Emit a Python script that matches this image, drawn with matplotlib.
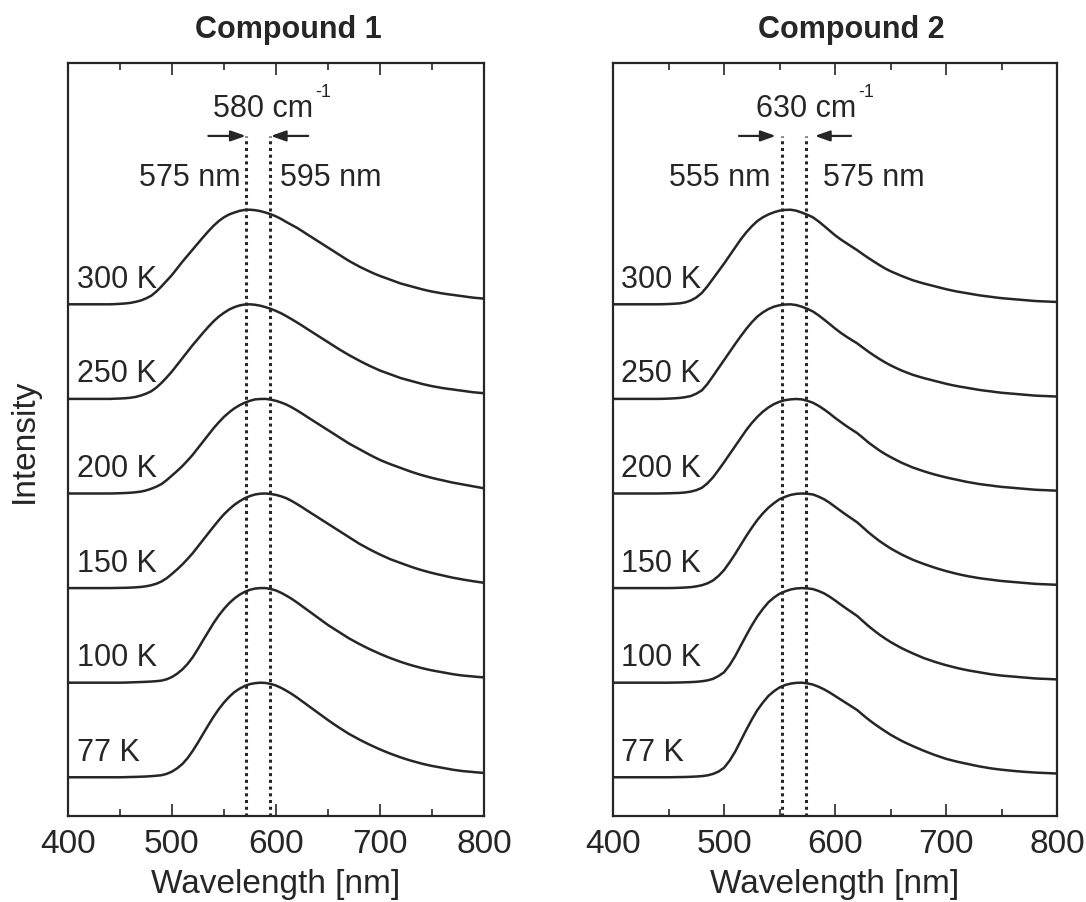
import matplotlib
matplotlib.use('Agg')
import matplotlib.pyplot as plt

plt.rcParams['font.family'] = ['Liberation Sans', 'DejaVu Sans']

# wavelength grid [nm], 5 nm steps (81 points)
wavelength = list(range(400, 801, 5))
temps = ['300 K', '250 K', '200 K', '150 K', '100 K', '77 K']

# compound 1, normalised intensity
c1_300 = [0, 0, 0, 0, 0, 0, 0, 0, 0, 0.002,
          0.005, 0.009, 0.015, 0.026, 0.04, 0.062, 0.09, 0.135, 0.19, 0.25,
          0.31, 0.38, 0.45, 0.515, 0.58, 0.645, 0.71, 0.772, 0.83, 0.88,
          0.92, 0.95, 0.97, 0.988, 0.998, 1.0, 0.995, 0.985, 0.97, 0.952,
          0.93, 0.902, 0.87, 0.84, 0.81, 0.776, 0.74, 0.705, 0.67, 0.635,
          0.60, 0.565, 0.53, 0.495, 0.46, 0.43, 0.40, 0.373, 0.347, 0.322,
          0.30, 0.28, 0.26, 0.24, 0.22, 0.205, 0.19, 0.175, 0.16, 0.147,
          0.135, 0.125, 0.115, 0.107, 0.10, 0.092, 0.085, 0.077, 0.07, 0.065,
          0.06]
c1_250 = [0, 0, 0, 0, 0, 0, 0, 0, 0, 0.002,
          0.004, 0.007, 0.012, 0.021, 0.035, 0.055, 0.08, 0.12, 0.17, 0.228,
          0.29, 0.36, 0.43, 0.50, 0.57, 0.635, 0.70, 0.762, 0.82, 0.87,
          0.91, 0.945, 0.97, 0.988, 0.998, 1.0, 0.995, 0.985, 0.97, 0.952,
          0.93, 0.905, 0.875, 0.843, 0.81, 0.776, 0.74, 0.705, 0.67, 0.635,
          0.60, 0.565, 0.53, 0.497, 0.465, 0.435, 0.405, 0.377, 0.35, 0.325,
          0.30, 0.28, 0.26, 0.24, 0.22, 0.205, 0.19, 0.175, 0.16, 0.147,
          0.135, 0.125, 0.115, 0.107, 0.10, 0.092, 0.085, 0.077, 0.07, 0.065,
          0.06]
c1_200 = [0, 0, 0, 0, 0, 0, 0, 0, 0, 0.001,
          0.003, 0.005, 0.008, 0.013, 0.02, 0.032, 0.05, 0.072, 0.10, 0.142,
          0.19, 0.238, 0.29, 0.348, 0.41, 0.48, 0.55, 0.62, 0.69, 0.752,
          0.81, 0.858, 0.90, 0.933, 0.96, 0.98, 0.995, 0.999, 1.0, 0.992,
          0.98, 0.962, 0.94, 0.912, 0.88, 0.846, 0.81, 0.775, 0.74, 0.705,
          0.67, 0.635, 0.60, 0.565, 0.53, 0.50, 0.47, 0.44, 0.41, 0.382,
          0.355, 0.332, 0.31, 0.29, 0.27, 0.25, 0.23, 0.212, 0.195, 0.18,
          0.165, 0.152, 0.14, 0.127, 0.115, 0.105, 0.095, 0.085, 0.075, 0.065,
          0.055]
c1_150 = [0, 0, 0, 0, 0, 0, 0, 0, 0, 0.001,
          0.002, 0.003, 0.005, 0.008, 0.012, 0.019, 0.03, 0.046, 0.07, 0.105,
          0.15, 0.198, 0.25, 0.308, 0.37, 0.44, 0.51, 0.58, 0.65, 0.717,
          0.78, 0.833, 0.88, 0.918, 0.95, 0.973, 0.99, 0.998, 1.0, 0.995,
          0.985, 0.97, 0.95, 0.922, 0.89, 0.856, 0.82, 0.785, 0.75, 0.715,
          0.68, 0.645, 0.61, 0.575, 0.54, 0.505, 0.47, 0.44, 0.41, 0.382,
          0.355, 0.33, 0.305, 0.285, 0.265, 0.245, 0.225, 0.207, 0.19, 0.175,
          0.16, 0.147, 0.135, 0.122, 0.11, 0.10, 0.09, 0.081, 0.072, 0.064,
          0.056]
c1_100 = [0, 0, 0, 0, 0, 0, 0, 0, 0, 0,
          0, 0.001, 0.003, 0.005, 0.007, 0.009, 0.012, 0.016, 0.022, 0.036,
          0.06, 0.095, 0.14, 0.198, 0.27, 0.357, 0.45, 0.54, 0.63, 0.71,
          0.78, 0.84, 0.89, 0.93, 0.96, 0.982, 0.995, 1.0, 1.0, 0.99,
          0.975, 0.95, 0.92, 0.887, 0.85, 0.81, 0.77, 0.73, 0.69, 0.65,
          0.61, 0.575, 0.54, 0.505, 0.47, 0.44, 0.41, 0.382, 0.355, 0.33,
          0.305, 0.282, 0.26, 0.24, 0.22, 0.202, 0.185, 0.17, 0.155, 0.142,
          0.13, 0.12, 0.11, 0.10, 0.09, 0.082, 0.075, 0.07, 0.065, 0.06,
          0.056]
c1_77 = [0, 0, 0, 0, 0, 0, 0, 0, 0, 0,
         0, 0.001, 0.003, 0.004, 0.006, 0.008, 0.012, 0.016, 0.022, 0.036,
         0.06, 0.095, 0.14, 0.202, 0.28, 0.367, 0.46, 0.552, 0.64, 0.72,
         0.79, 0.85, 0.90, 0.937, 0.965, 0.985, 0.995, 1.0, 0.997, 0.987,
         0.97, 0.945, 0.915, 0.882, 0.845, 0.805, 0.765, 0.725, 0.685, 0.645,
         0.605, 0.567, 0.53, 0.495, 0.46, 0.43, 0.40, 0.372, 0.345, 0.32,
         0.295, 0.272, 0.25, 0.23, 0.21, 0.192, 0.175, 0.16, 0.145, 0.132,
         0.12, 0.11, 0.10, 0.09, 0.08, 0.072, 0.065, 0.06, 0.055, 0.05,
         0.046]

# compound 2 (small shoulder near 620 nm)
c2_300 = [0, 0, 0, 0, 0, 0, 0, 0, 0, 0.001,
          0.003, 0.006, 0.01, 0.02, 0.04, 0.072, 0.12, 0.19, 0.27, 0.35,
          0.43, 0.515, 0.60, 0.685, 0.76, 0.825, 0.88, 0.92, 0.95, 0.973,
          0.99, 0.998, 1.0, 0.99, 0.97, 0.947, 0.92, 0.878, 0.83, 0.78,
          0.73, 0.687, 0.648, 0.61, 0.572, 0.53, 0.49, 0.452, 0.415, 0.38,
          0.35, 0.325, 0.30, 0.277, 0.255, 0.237, 0.22, 0.205, 0.19, 0.175,
          0.16, 0.147, 0.135, 0.125, 0.115, 0.105, 0.095, 0.087, 0.08, 0.072,
          0.065, 0.06, 0.055, 0.05, 0.045, 0.04, 0.035, 0.032, 0.03, 0.027,
          0.025]
c2_250 = [0, 0, 0, 0, 0, 0, 0, 0, 0, 0.001,
          0.003, 0.006, 0.01, 0.018, 0.03, 0.055, 0.09, 0.157, 0.24, 0.325,
          0.41, 0.495, 0.58, 0.662, 0.74, 0.81, 0.87, 0.915, 0.95, 0.975,
          0.99, 0.998, 1.0, 0.992, 0.975, 0.952, 0.925, 0.885, 0.84, 0.793,
          0.745, 0.70, 0.66, 0.623, 0.587, 0.543, 0.50, 0.46, 0.422, 0.387,
          0.355, 0.327, 0.30, 0.277, 0.255, 0.237, 0.22, 0.205, 0.19, 0.175,
          0.16, 0.147, 0.135, 0.125, 0.115, 0.105, 0.095, 0.087, 0.08, 0.072,
          0.065, 0.06, 0.055, 0.05, 0.045, 0.04, 0.035, 0.032, 0.03, 0.027,
          0.025]
c2_200 = [0, 0, 0, 0, 0, 0, 0, 0, 0, 0.001,
          0.002, 0.004, 0.006, 0.011, 0.02, 0.035, 0.06, 0.107, 0.17, 0.248,
          0.33, 0.415, 0.50, 0.585, 0.67, 0.745, 0.81, 0.865, 0.91, 0.945,
          0.97, 0.987, 0.995, 0.999, 0.995, 0.98, 0.96, 0.928, 0.89, 0.847,
          0.80, 0.757, 0.715, 0.676, 0.638, 0.59, 0.54, 0.497, 0.455, 0.418,
          0.385, 0.355, 0.325, 0.30, 0.275, 0.255, 0.235, 0.217, 0.20, 0.185,
          0.17, 0.157, 0.145, 0.132, 0.12, 0.11, 0.10, 0.092, 0.085, 0.077,
          0.07, 0.065, 0.06, 0.055, 0.05, 0.045, 0.04, 0.037, 0.035, 0.032,
          0.03]
c2_150 = [0, 0, 0, 0, 0, 0, 0, 0, 0, 0,
          0, 0.001, 0.003, 0.006, 0.01, 0.018, 0.03, 0.05, 0.08, 0.128,
          0.19, 0.272, 0.36, 0.455, 0.55, 0.638, 0.72, 0.79, 0.85, 0.898,
          0.94, 0.965, 0.985, 0.996, 1.0, 0.997, 0.99, 0.968, 0.94, 0.903,
          0.86, 0.817, 0.775, 0.735, 0.695, 0.643, 0.59, 0.543, 0.498, 0.458,
          0.42, 0.387, 0.355, 0.327, 0.30, 0.277, 0.255, 0.235, 0.215, 0.197,
          0.18, 0.165, 0.15, 0.137, 0.125, 0.115, 0.105, 0.097, 0.09, 0.082,
          0.075, 0.07, 0.065, 0.06, 0.055, 0.05, 0.045, 0.042, 0.04, 0.037,
          0.035]
c2_100 = [0, 0, 0, 0, 0, 0, 0, 0, 0, 0,
          0, 0.001, 0.002, 0.004, 0.006, 0.009, 0.015, 0.024, 0.04, 0.07,
          0.11, 0.185, 0.28, 0.39, 0.50, 0.605, 0.70, 0.78, 0.85, 0.90,
          0.94, 0.965, 0.985, 0.996, 1.0, 0.997, 0.99, 0.97, 0.945, 0.91,
          0.87, 0.827, 0.785, 0.745, 0.705, 0.652, 0.60, 0.553, 0.508, 0.468,
          0.43, 0.397, 0.365, 0.337, 0.31, 0.285, 0.26, 0.24, 0.22, 0.202,
          0.185, 0.17, 0.155, 0.142, 0.13, 0.12, 0.11, 0.10, 0.09, 0.082,
          0.075, 0.07, 0.065, 0.06, 0.055, 0.05, 0.045, 0.042, 0.04, 0.037,
          0.035]
c2_77 = [0, 0, 0, 0, 0, 0, 0, 0, 0, 0,
         0, 0.001, 0.002, 0.003, 0.005, 0.008, 0.012, 0.02, 0.035, 0.06,
         0.10, 0.175, 0.27, 0.385, 0.50, 0.61, 0.71, 0.79, 0.86, 0.91,
         0.95, 0.975, 0.99, 0.998, 1.0, 0.993, 0.98, 0.958, 0.93, 0.897,
         0.86, 0.822, 0.785, 0.748, 0.71, 0.66, 0.612, 0.568, 0.527, 0.488,
         0.45, 0.417, 0.385, 0.357, 0.33, 0.305, 0.28, 0.257, 0.235, 0.215,
         0.195, 0.18, 0.165, 0.152, 0.14, 0.127, 0.115, 0.105, 0.095, 0.087,
         0.08, 0.074, 0.068, 0.063, 0.058, 0.054, 0.05, 0.047, 0.045, 0.042,
         0.04]

compound1 = [c1_300, c1_250, c1_200, c1_150, c1_100, c1_77]
compound2 = [c2_300, c2_250, c2_200, c2_150, c2_100, c2_77]

titles = ['Compound 1', 'Compound 2']
peak_lines = [(571, 594), (552, 574)]        # dotted markers [nm]
peak_labels = [('575 nm', '595 nm'), ('555 nm', '575 nm')]
shift_labels = ['580 cm', '630 cm']

INK = '#262626'

fig = plt.figure(figsize=(10.86, 9.03), dpi=100)
axes = [fig.add_axes([0.0626, 0.0956, 0.383, 0.833]),
        fig.add_axes([0.5645, 0.0956, 0.4088, 0.833])]

# per panel layout of the annotation texts (data coords)
layout = [
    dict(shift_x=587.8, sup_x=637.8, left_x=565.7, right_x=604.0,
         arrows=((535, 571), (631, 595)), temp_x=409, title_x=0.529),
    dict(shift_x=573.9, sup_x=620.7, left_x=542.3, right_x=589.2,
         arrows=((513.5, 546.6), (614.4, 581.8)), temp_x=407, title_x=0.536),
]

ybot, ytop = -0.406, 7.546
y_arrow = 6.78

for ax, data, title, lines, plabs, slab, lay in zip(
        axes, [compound1, compound2], titles, peak_lines, peak_labels,
        shift_labels, layout):
    n = len(data)
    for i, (spec, t) in enumerate(zip(data, temps)):
        off = n - 1 - i
        ax.plot(wavelength, [off + v for v in spec], color=INK, lw=1.8,
                solid_joinstyle='round')
        ax.text(lay['temp_x'], off + 0.184, t, fontsize=22, color=INK,
                ha='left', va='baseline')

    for x in lines:
        ax.plot([x, x], [ybot, y_arrow], color=INK, lw=2.2,
                linestyle=(0, (1, 1.2)))

    for x0, x1 in lay['arrows']:
        ax.annotate('', xy=(x1, y_arrow), xytext=(x0, y_arrow),
                    arrowprops=dict(arrowstyle='-|>,head_length=0.9,head_width=0.32',
                                    color=INK, lw=1.6, shrinkA=0, shrinkB=0))

    ax.text(lay['shift_x'], 6.99, slab, fontsize=22, color=INK,
            ha='center', va='baseline')
    ax.text(lay['sup_x'], 7.205, '-1', fontsize=13, color=INK,
            ha='left', va='baseline')
    ax.text(lay['left_x'], 6.264, plabs[0], fontsize=22, color=INK,
            ha='right', va='baseline')
    ax.text(lay['right_x'], 6.264, plabs[1], fontsize=22, color=INK,
            ha='left', va='baseline')

    ax.text(lay['title_x'], 1.0 + 26.5 / 752, title, transform=ax.transAxes,
            fontsize=22, fontweight='bold', color=INK, ha='center', va='baseline')

    ax.set_xlim(400, 800)
    ax.set_ylim(ybot, ytop)
    ax.set_xticks([400, 500, 600, 700, 800])
    ax.set_xticks([450, 550, 650, 750], minor=True)
    ax.set_yticks([])
    ax.tick_params(axis='x', which='both', direction='in', top=True,
                   width=1.2, color=INK, labelcolor=INK)
    ax.tick_params(axis='x', which='major', length=8.6, pad=9, labelsize=24)
    ax.tick_params(axis='x', which='minor', length=4.7)
    for sp in ax.spines.values():
        sp.set_linewidth(1.6)
        sp.set_color(INK)
    ax.set_xlabel('Wavelength [nm]', fontsize=24, color=INK, labelpad=6)

axes[0].set_ylabel('Intensity', fontsize=24, color=INK, labelpad=20)

fig.savefig('out.png', dpi=100)
